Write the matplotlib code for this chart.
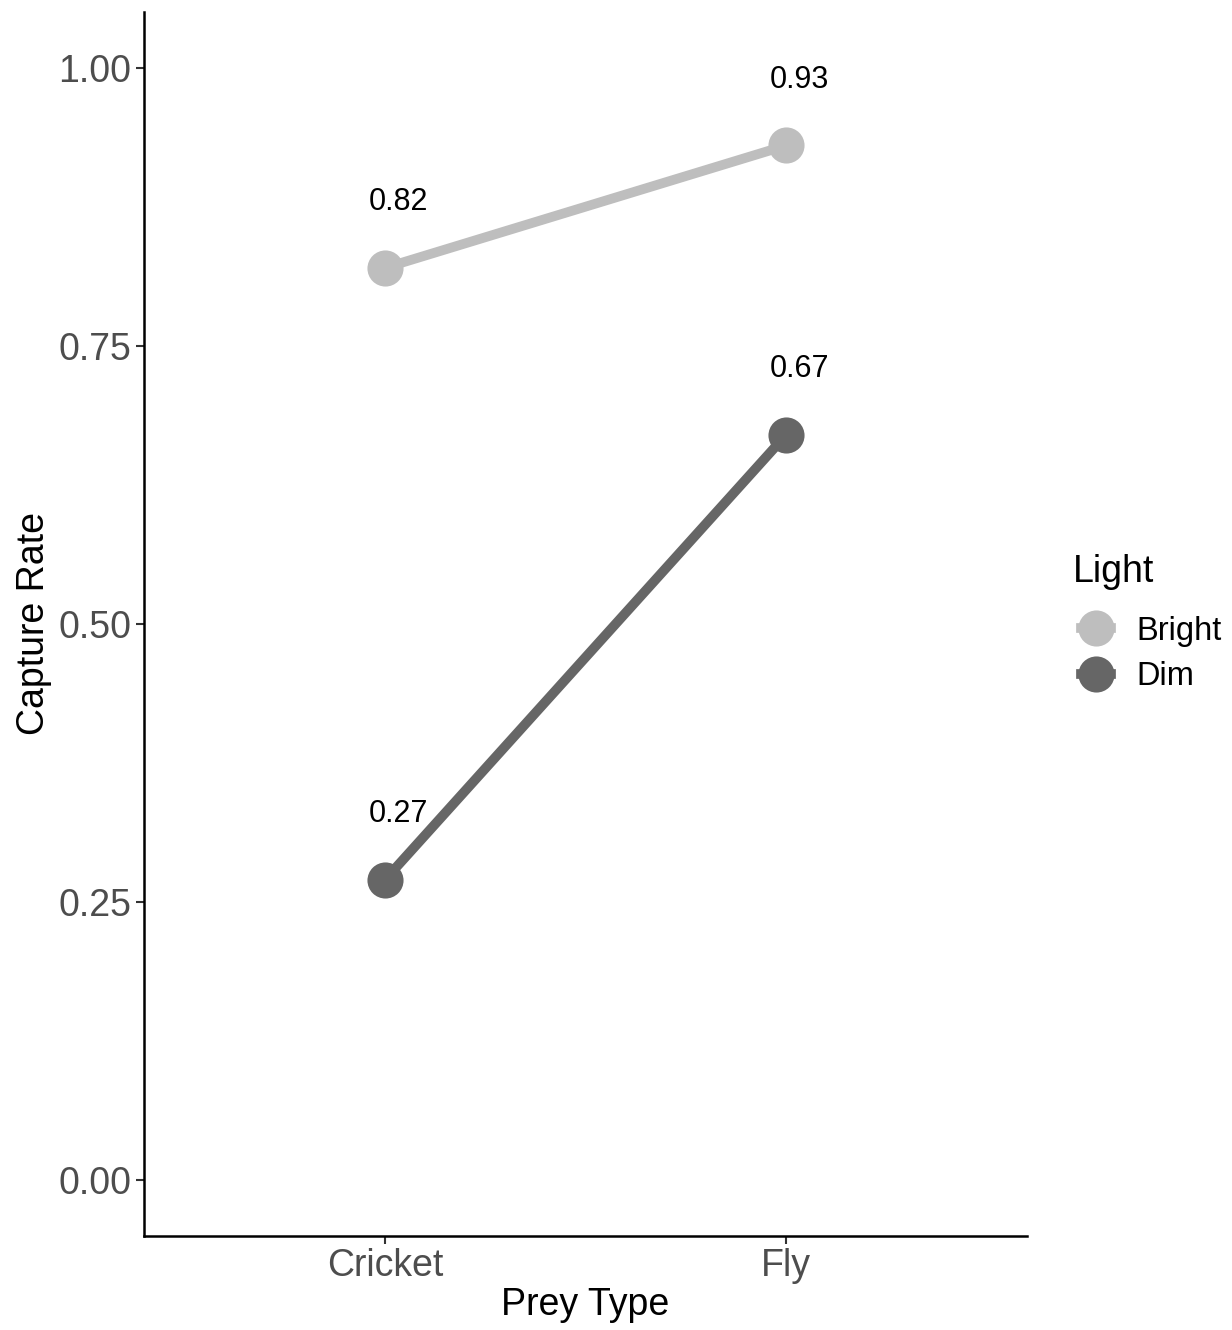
import matplotlib.pyplot as plt
from matplotlib.lines import Line2D

plt.rcParams['font.family'] = ['Liberation Sans', 'DejaVu Sans']

# data
prey = ["Cricket", "Fly"]
light = ["Bright", "Dim"]
bright_rate = [0.82, 0.93]
dim_rate = [0.27, 0.67]
colors = {"Bright": "#bebebe", "Dim": "#666666"}

fig = plt.figure(figsize=(12.32, 13.30), dpi=100)
ax = fig.add_axes([0.1169, 0.0707, 0.7167, 0.9203])

xpos = [1, 2]
for name, vals in zip(light, [bright_rate, dim_rate]):
    ax.plot(xpos, vals, color=colors[name], lw=7, solid_capstyle='butt', zorder=2)
    ax.plot(xpos, vals, 'o', color=colors[name], ms=26, mec='none', zorder=3)
    for x, v in zip(xpos, vals):
        ax.annotate("%.2f" % v, (x, v), xytext=(9.5, 47.5), textcoords='offset points',
                    ha='center', va='center', fontsize=22, color='black')

ax.set_xlim(0.4, 2.6)
ax.set_ylim(-0.05, 1.05)
ax.set_xticks(xpos)
ax.set_xticklabels(prey)
ax.set_yticks([0, 0.25, 0.5, 0.75, 1.0])
ax.set_yticklabels(["0.00", "0.25", "0.50", "0.75", "1.00"])
ax.tick_params(labelsize=27, labelcolor='#4d4d4d', color='#333333', length=6, width=1.5, pad=3)

for s in ['top', 'right']:
    ax.spines[s].set_visible(False)
for s in ['left', 'bottom']:
    ax.spines[s].set_linewidth(1.8)

ax.set_xlabel("Prey Type", fontsize=27, labelpad=2)
ax.set_ylabel("Capture Rate", fontsize=27, labelpad=5)

# legend title drawn on its own so the gap to the keys matches
fig.text(0.871, 1 - 572 / 1330, "Light", fontsize=27, va='center', ha='left')
handles = [Line2D([0], [0], color=colors[n], lw=7, marker='o', ms=26, mec='none') for n in light]
leg = fig.legend(handles, light, loc='center left',
                 bbox_to_anchor=(0.8776, 1 - 654 / 1330), frameon=False, fontsize=23.5,
                 handlelength=0.9, handletextpad=0.8,
                 labelspacing=0.45, borderpad=0, borderaxespad=0)

fig.savefig("out.png", dpi=100)
